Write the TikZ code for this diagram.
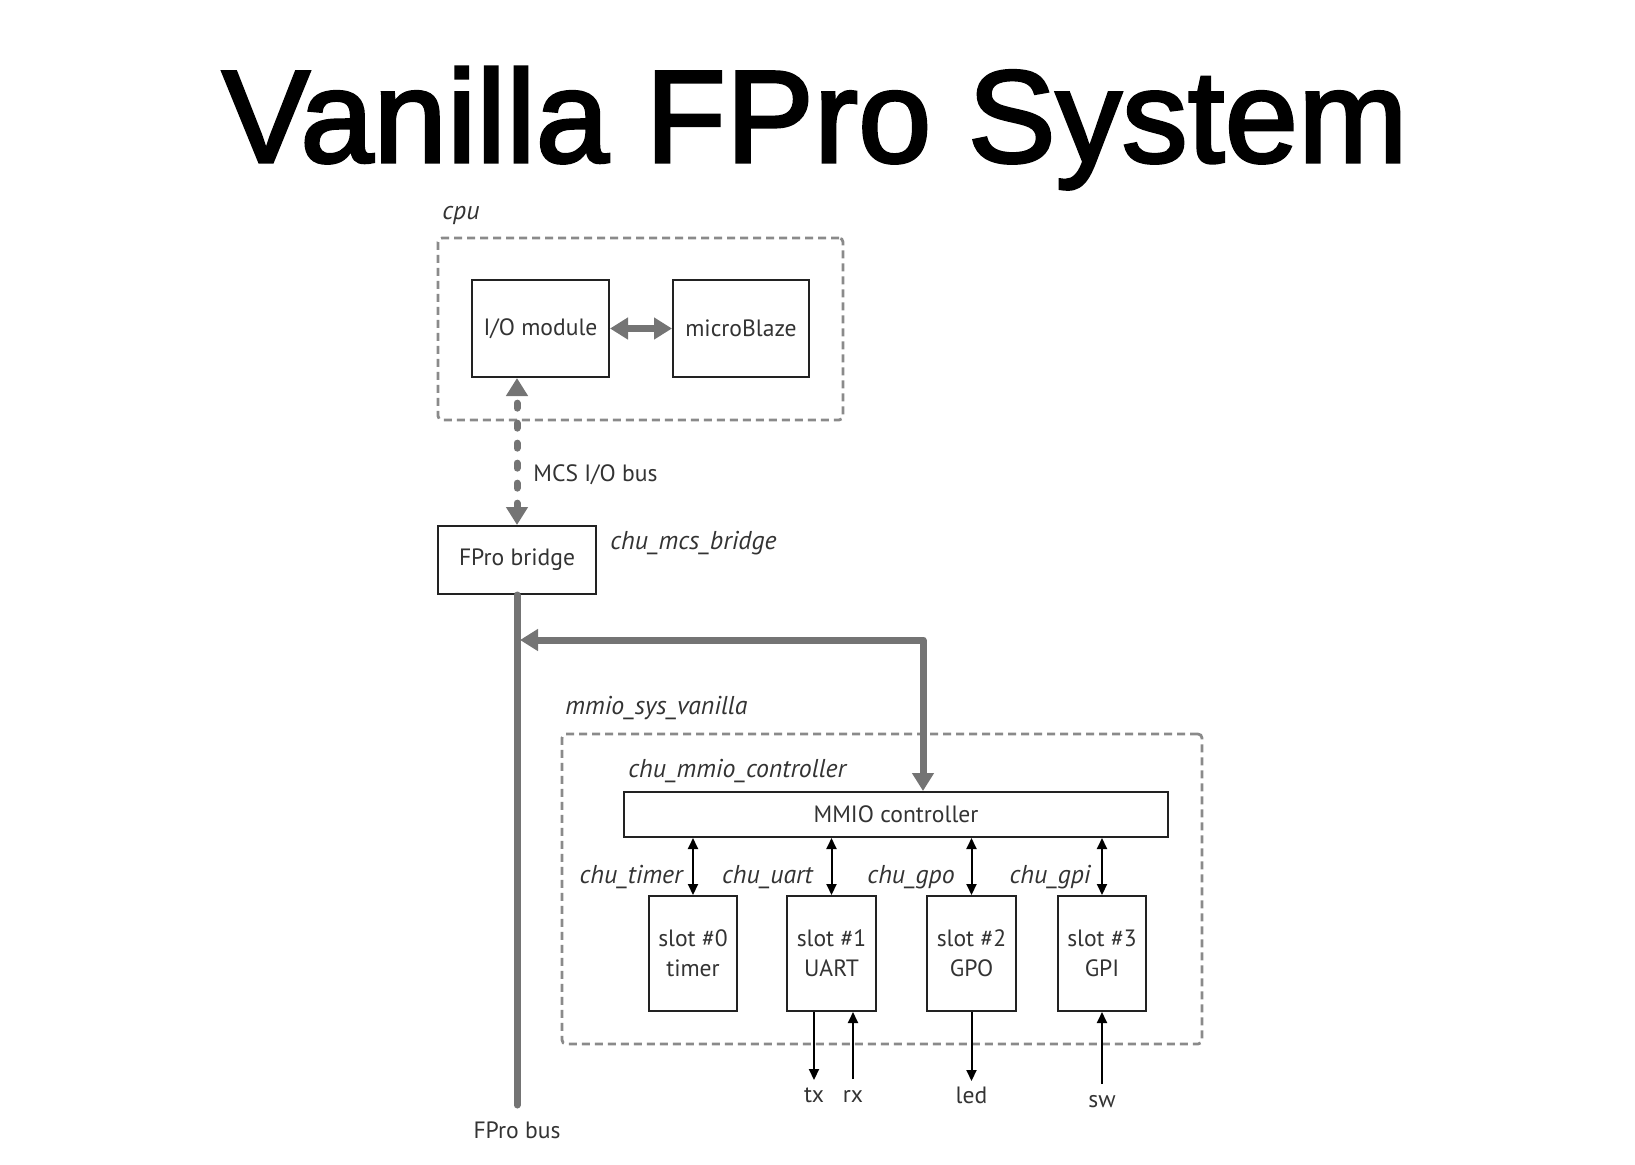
\documentclass[tikz,border=0pt]{standalone}
\usepackage{fontspec}
\setmainfont{PT Sans}
\newfontfamily\titlefont[BoldFont={Liberation Sans}, BoldFeatures={FakeBold=2.5,LetterSpace=0.4}]{Liberation Sans}
\usetikzlibrary{arrows.meta}
\definecolor{txtc}{HTML}{333333}
\definecolor{boxc}{HTML}{222222}
\definecolor{dashc}{HTML}{8A8A8A}
\definecolor{busc}{HTML}{747474}
\begin{document}
\begin{tikzpicture}[x=0.5pt,y=-0.5pt,
  txtfont/.style={font=\fontsize{11.8}{15}\selectfont},
  box/.style={draw=boxc, line width=1pt, fill=white, inner sep=0pt, text=txtc, txtfont, align=center},
  lbl/.style={text=txtc, txtfont, inner sep=0pt},
  ilbl/.style={text=txtc, font=\fontsize{12.9}{15}\selectfont\itshape, inner sep=0pt},
  grp/.style={draw=dashc, line width=1.4pt, dash pattern=on 4pt off 2.5pt, rounded corners=2pt, inner sep=0pt},
  gbus/.style={draw=busc, line width=3.5pt},
  gtip/.style={{Triangle[length=9pt,width=10.5pt]}-{Triangle[length=9pt,width=10.5pt]}},
  mcs/.style={gbus, line cap=round, dash pattern=on 2.5pt off 7.5pt},
  sarr/.style={draw=black, line width=1pt},
  stip/.style={-{Triangle[length=5.5pt,width=5pt]}},
  dtip/.style={{Triangle[length=5.5pt,width=5pt]}-{Triangle[length=5.5pt,width=5pt]}}
]
\useasboundingbox (0,0) rectangle (1635,1164);

% title
\node[font=\titlefont\bfseries\fontsize{65.5}{70}\selectfont, anchor=base, inner sep=0pt] (title) at (815,162) {Vanilla FPro System};

% cpu group
\node[grp, minimum width=202.5pt, minimum height=91pt] (cpu) at (640.5,329) {};
\node[ilbl, anchor=base west] (cpulbl) at (442,219) {cpu};
\node[box, minimum width=68.5pt, minimum height=48.5pt] (iom) at (540.5,328.5) {I/O module};
\node[box, minimum width=68pt, minimum height=48.5pt] (mb) at (741,328.5) {microBlaze};
\draw[gbus, gtip] (iom.east) -- (mb.west);

% bridge
\node[box, minimum width=79pt, minimum height=34pt] (bridge) at (517,560) {FPro bridge};
\node[ilbl, anchor=base west] (bridgelbl) at (610,549) {chu\_mcs\_bridge};
\draw[mcs, gtip] (bridge.north) -- (iom.south -| bridge.north);
\node[lbl, anchor=base west] (mcslbl) at (533,481) {MCS I/O bus};

% FPro bus
\coordinate (busend) at (517,1105);
\draw[gbus, line cap=round] (bridge.south) -- (busend);
\node[lbl, anchor=base] (buslbl) at (517,1138) {FPro bus};

% mmio group
\node[grp, minimum width=320pt, minimum height=155pt] (mmio) at (882,889) {};
\node[ilbl, anchor=base west] (mmiolbl) at (565,714) {mmio\_sys\_vanilla};
\node[box, minimum width=272pt, minimum height=22.5pt] (ctrl) at (896,814.5) {MMIO controller};
\node[ilbl, anchor=base west] (ctrllbl) at (628,777) {chu\_mmio\_controller};

% bus to controller
\coordinate (corner) at (923,640);
\coordinate (busj) at (520,640);
\draw[gbus, line join=round, gtip] (busj) -- (corner) -- (ctrl.north -| corner);

% slots
\node[box, minimum width=44pt, minimum height=57.5pt] (s0) at (693,953.5) {slot \#0\\timer};
\node[box, minimum width=44.5pt, minimum height=57.5pt] (s1) at (831.5,953.5) {slot \#1\\UART};
\node[box, minimum width=44.5pt, minimum height=57.5pt] (s2) at (971.5,953.5) {slot \#2\\GPO};
\node[box, minimum width=44pt, minimum height=57.5pt] (s3) at (1102,953.5) {slot \#3\\GPI};

\draw[sarr, dtip] (s0.north |- ctrl.south) -- (s0.north);
\draw[sarr, dtip] (s1.north |- ctrl.south) -- (s1.north);
\draw[sarr, dtip] (s2.north |- ctrl.south) -- (s2.north);
\draw[sarr, dtip] (s3.north |- ctrl.south) -- (s3.north);

\node[ilbl, anchor=base east] (ltimer) at (683,883) {chu\_timer};
\node[ilbl, anchor=base east] (luart) at (813,883) {chu\_uart};
\node[ilbl, anchor=base east] (lgpo) at (955,883) {chu\_gpo};
\node[ilbl, anchor=base east] (lgpi) at (1091,883) {chu\_gpi};

% io signals
\coordinate (txe) at (814,1080);
\coordinate (rxs) at (853,1079);
\coordinate (lede) at (971.5,1081);
\coordinate (sws) at (1102,1084);
\draw[sarr, stip] (s1.south -| txe) -- (txe);
\draw[sarr, stip] (rxs) -- (s1.south -| rxs);
\draw[sarr, stip] (s2.south) -- (lede);
\draw[sarr, stip] (sws) -- (s3.south);
\node[lbl, anchor=base] (tx) at (814,1102) {tx};
\node[lbl, anchor=base] (rx) at (853,1102) {rx};
\node[lbl, anchor=base] (led) at (971.5,1103) {led};
\node[lbl, anchor=base] (sw) at (1102,1107) {sw};
\end{tikzpicture}
\end{document}
